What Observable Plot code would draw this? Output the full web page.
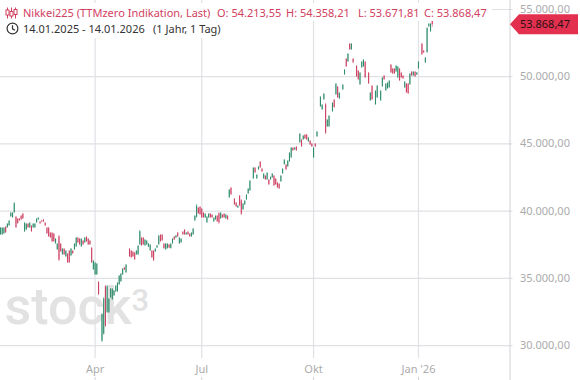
<!DOCTYPE html>
<html lang="de">
<head>
<meta charset="utf-8">
<title>Nikkei225</title>
<script src="https://cdn.jsdelivr.net/npm/d3@7"></script>
<script src="https://cdn.jsdelivr.net/npm/@observablehq/plot@0.6"></script>
<style>
html,body{margin:0;padding:0;background:#fff;overflow:hidden}
#wrap{position:relative;width:580px;height:380px;font-family:"Noto Sans",sans-serif;font-size:11px}
.box{position:absolute;background:#fff;white-space:pre;line-height:16px}
.red{color:#d2405f}
.ink{color:#333}
.abs{position:absolute;top:0}
svg.ic{position:absolute}
</style>
</head>
<body>
<div id="wrap"></div>
<script>
const highs = [
38780,38780,38780,38860,39080,39300,39900,39900,40640,39600,
39450,39450,39670,39820,39150,39080,39080,39150,38930,39080,
39080,39450,39520,39230,39300,39380,39150,38780,38780,38410,
38410,38340,37960,37590,38190,37590,37220,37220,37070,36850,
37070,37220,37070,37590,38040,38040,37960,37960,37810,38040,
38110,37960,37810,37290,36330,36180,36100,34760,null,32380,
33570,34470,34470,33500,34240,34240,34090,34470,34690,35210,
35360,35730,35810,36030,null,37220,37070,37000,36920,37070,
37440,38560,38040,38040,37890,37810,37590,37520,37070,37070,
37220,37440,38190,38260,38260,37590,37590,37590,37520,37590,
37960,38110,38190,38410,38040,37960,38480,38630,38410,38480,
38340,38410,38710,39670,40490,40270,40340,40190,39900,39820,
39600,39820,39820,39750,39520,39670,39670,39900,39900,39750,
39820,39750,39670,41610,41760,null,40940,40640,40420,41160,
40860,40570,40790,41240,41680,42280,null,43250,43250,42720,
43320,43690,43170,42800,42650,42870,42350,42570,42800,42650,
42430,42130,42050,42650,43170,43840,43470,43770,44360,44730,
44730,44730,44810,null,45770,45330,45630,45700,45700,45480,
45250,45030,44730,45030,45920,null,48530,47930,48750,48010,
46820,47110,null,48080,48300,49500,49270,48830,null,49420,
50540,51350,51730,52470,52470,51350,null,50830,50460,50310,
51130,51280,51130,null,50310,48830,49350,null,48970,49350,
null,48970,49940,50090,49500,49570,49720,50910,50610,50610,
50830,50760,50610,50310,50090,49640,49500,49500,50240,50390,
50390,50390,50310,51130,null,52470,51950,51430,53660,53960,
53960,54358.21];
const lows = [
38190,38190,38260,38340,38710,38860,39520,39450,39820,38710,
39010,39230,39300,39380,38410,38560,38710,38710,38410,38710,
38710,39080,39300,39010,39150,39150,38860,38260,38040,37960,
37670,37670,37520,37070,36250,36920,36700,36700,36550,36100,
36100,36620,36770,37070,37290,37590,37440,37290,37440,37590,
37670,37440,37440,36100,35580,35210,35210,33720,null,30220,
30750,31340,32380,32380,33500,33350,33650,33940,33940,34470,
34690,35210,35580,35360,null,36550,36480,36550,36330,36700,
36700,37440,37370,37440,37370,37440,37290,37000,36480,36250,
36920,37220,37440,37670,37740,37150,37070,37150,37220,37150,
37520,37810,37960,38040,37520,37590,38190,38190,38190,38190,
38040,38040,38190,39230,39450,39750,39670,39450,39450,39450,
39080,39450,39450,39450,39150,39300,39150,39010,39380,39450,
39450,39380,39300,40940,41160,null,40420,40270,40190,40340,
39670,40050,40420,40790,41240,41460,null,42350,42800,42350,
43020,43170,42870,42350,42280,42280,41910,42280,42430,41830,
41910,41680,41610,42130,42720,43400,43020,43250,43620,43910,
44430,44510,44430,null,45030,44730,45250,45330,45250,45110,
44880,44730,43910,44730,45480,null,47710,47490,48230,45700,
46220,46220,null,47340,47640,48600,48380,48300,null,48970,
50090,50690,51060,51950,51950,50980,null,49940,49720,49350,
50610,50690,49870,null,49420,48160,48230,null,47860,48380,
null,48160,49200,49720,48900,49050,49120,50240,50160,50160,
50310,49870,49640,49870,49790,49120,48750,48680,49350,50010,
50010,49940,50090,50540,null,51580,51730,50980,51730,53660,
53290,53671.81];
const opens = [
38250,38250,38320,38800,38770,38920,39580,39510,39880,39540,
39390,39400,39610,39760,38470,38620,39020,38770,38870,38770,
38770,39140,39350,39180,39260,39330,39100,38720,38720,38350,
38350,38280,37580,37130,38100,37530,36760,37160,36610,36790,
37010,36680,37010,37130,37350,37980,37900,37350,37750,37650,
38050,37900,37750,37230,35640,35270,35270,34700,null,30320,
30850,34370,32480,32440,33560,33410,33710,34000,34000,34530,
34750,35270,35770,35420,null,37160,37010,36940,36860,36760,
36760,37500,37980,37980,37430,37500,37330,37060,37010,37010,
36980,37260,37500,38200,38200,37530,37130,37210,37480,37210,
37580,38060,38000,38350,37580,37650,38420,38570,38240,38420,
38280,38100,38250,39290,39550,40210,40280,40130,39840,39510,
39140,39510,39760,39690,39210,39360,39610,39800,39440,39690,
39760,39440,39610,41000,41700,null,40880,40580,40240,41100,
40780,40110,40480,40850,41300,41520,null,42410,43190,42410,
43070,43630,43120,42410,42590,42340,42290,42340,42490,42590,
42370,42070,41990,42190,42780,43460,43410,43310,43680,43970,
44670,44560,44750,null,45090,45270,45310,45640,45640,45170,
45190,44970,43970,44970,45540,null,47770,47550,48290,47910,
46280,46280,null,47400,48240,48660,49210,48360,null,49030,
50150,51290,51120,52410,52010,51290,null,50770,50400,49410,
50670,50750,51070,null,50250,48220,49290,null,47920,48440,
null,48220,49260,50030,48960,49110,49180,50850,50550,50550,
50370,49930,50550,50250,50030,49180,49440,49440,49410,50330,
50070,50330,50130,50600,null,52410,51900,51040,51800,53710,
53350,54213.55];
const closes = [
38720,38720,38720,38400,39020,39240,39840,39840,40550,38770,
39070,39280,39360,39440,39090,39020,38770,39090,38470,39020,
39020,39390,39470,39060,39190,39200,38910,38320,38100,38020,
37730,37730,37900,37530,36350,36980,37160,36760,37010,36160,
36160,37160,36830,37530,37980,37650,37500,37900,37500,37980,
37730,37500,37500,36160,36270,36120,36040,33780,null,32300,
33470,31440,34370,33440,34180,34180,34030,34410,34630,35150,
35300,35670,35620,35970,null,36610,36540,36610,36390,37010,
37380,38460,37430,37500,37830,37750,37550,37460,36540,36310,
37160,37400,38130,37730,37800,37210,37530,37530,37260,37530,
37900,37860,38150,38100,37980,37900,38250,38250,38360,38250,
38100,38350,38650,39610,40390,39810,39730,39510,39510,39760,
39540,39760,39510,39510,39460,39610,39210,39110,39840,39510,
39510,39690,39360,41550,41220,null,40480,40330,40370,40400,
39770,40510,40730,41180,41620,42220,null,43190,42860,42660,
43270,43230,42920,42740,42340,42810,41970,42510,42740,41890,
41970,41740,41670,42590,43110,43780,43080,43710,44300,44670,
44490,44680,44490,null,45710,44790,45570,45390,45310,45420,
44940,44790,44670,44790,45860,null,48470,47870,48690,45800,
46760,47050,null,48020,47700,49440,48440,48770,null,49360,
50480,50750,51670,52010,52410,51040,null,50000,49780,50250,
51070,51220,49930,null,49480,48770,48290,null,48910,49290,
null,48910,49880,49780,49440,49510,49660,50300,50220,50220,
50770,50700,49700,49930,49850,49580,48810,48740,50180,50070,
50330,50000,50270,51070,null,51640,51780,51370,53580,53900,
53900,53868.47];

const priceTicks = [30000,35000,40000,45000,50000,55000];
const monthDays = [55,117,182,243];
const monthNames = ["Apr","Jul","Okt","Jan '26"];
const titleText = "Nikkei225 (TTMzero Indikation, Last)";
const ohlcLabels = ["O: 54.213,55","H: 54.358,21","L: 53.671,81","C: 53.868,47"];
const rangeText = "14.01.2025 - 14.01.2026";
const spanText = "(1 Jahr, 1 Tag)";
const lastPrice = 53868.47;

const green = "#2f8d6c", red = "#cd4062", gridC = "#e0e1e5", axisC = "#d0d1d7", labelC = "#ababab";
const de = v => v.toLocaleString("de-DE",{minimumFractionDigits:2,maximumFractionDigits:2});
const days = d3.range(highs.length).filter(i => highs[i] != null);
const tone = i => closes[i] >= opens[i] ? green : red;

const tagMark = (index, {y}) => {
  const c = y(lastPrice);
  return d3.create("svg:path")
    .attr("d", `M510,${c}L519,${c-10}H578V${c+10}H519Z`)
    .attr("fill", "#e3304f")
    .node();
};

const chart = Plot.plot({
  width:580, height:380,
  marginLeft:0, marginRight:70.5, marginTop:0, marginBottom:22,
  style:{fontFamily:"Noto Sans, sans-serif", fontSize:"11px", background:"#fff"},
  x:{domain:[0,296.2], axis:null},
  y:{domain:[29035,55670], axis:null},
  marks:[
    Plot.ruleY(priceTicks,{stroke:gridC, strokeWidth:1.2, insetRight:-3}),
    Plot.gridX(monthDays,{stroke:gridC, strokeOpacity:1, strokeWidth:1.2}),
    Plot.ruleX([296.2],{stroke:axisC, strokeWidth:1, insetBottom:-22}),
    Plot.ruleX(monthDays,{stroke:axisC, strokeWidth:1, insetTop:377, insetBottom:-22}),
    Plot.text(["stock"],{text:d=>d, frameAnchor:"left", dx:4, dy:128, fontSize:52, fontWeight:500, fontFamily:"Roboto", fill:"#e2e2e2"}),
    Plot.text(["3"],{text:d=>d, frameAnchor:"left", dx:131, dy:122, fontSize:31, fontWeight:500, fontFamily:"Roboto", fill:"#e2e2e2"}),
    Plot.ruleX(days,{x:d=>d, y1:i=>lows[i], y2:i=>highs[i], stroke:tone, strokeWidth:1, strokeOpacity:0.5}),
    Plot.ruleX(days,{x:d=>d, y1:i=>opens[i], y2:i=>closes[i], stroke:tone, strokeWidth:1.1}),
    Plot.axisY(priceTicks,{anchor:"right", tickSize:0, tickPadding:10, tickFormat:de, color:labelC, fontSize:11}),
    Plot.axisX(monthDays,{anchor:"bottom", tickSize:0, tickPadding:7, tickFormat:(d,i)=>monthNames[i], color:labelC, fontSize:11}),
    tagMark,
    Plot.text([lastPrice],{x:()=>296.2, y:d=>d, text:de, textAnchor:"start", dx:10, fill:"#2a1015", fontSize:11})
  ]
});

const wrap = document.getElementById("wrap");
wrap.appendChild(chart);

const box = (left,top,w,h) => {
  const el = document.createElement("div");
  el.className = "box";
  el.style.cssText = `left:${left}px;top:${top}px;width:${w}px;height:${h}px`;
  wrap.appendChild(el);
  return el;
};
const label = (parent,text,left,top,cls) => {
  const s = document.createElement("span");
  s.className = "abs " + cls;
  s.textContent = text;
  s.style.left = left + "px";
  s.style.top = top + "px";
  parent.appendChild(s);
};
const line1 = box(0,3,492,18);
label(line1,titleText,23,2,"red");
[217,286,358,424].forEach((x,i)=>label(line1,ohlcLabels[i],x,2,"red"));
const line2 = box(0,21,230,17);
label(line2,rangeText,23,0,"ink");
label(line2,spanText,153,0,"ink");

wrap.insertAdjacentHTML("beforeend",`
<svg class="ic" style="left:5px;top:7px" width="13" height="12" viewBox="0 0 13 12" fill="none" stroke="#d2405f" stroke-width="1">
<path d="M2.5 0.5V11.5M6.5 0.5V11.5M10.5 0.5V11.5"/>
<rect x="1" y="3" width="3" height="5" fill="#fff"/><rect x="5" y="4.5" width="3" height="4.5" fill="#fff"/><rect x="9" y="2.5" width="3" height="5" fill="#fff"/>
</svg>
<svg class="ic" style="left:6px;top:22px" width="13" height="13" viewBox="0 0 13 13" fill="none" stroke="#333" stroke-width="1.2">
<circle cx="6.5" cy="6.5" r="5.4"/><path d="M6.5 3.2V6.8L9 8.2"/>
</svg>`);
</script>
</body>
</html>
